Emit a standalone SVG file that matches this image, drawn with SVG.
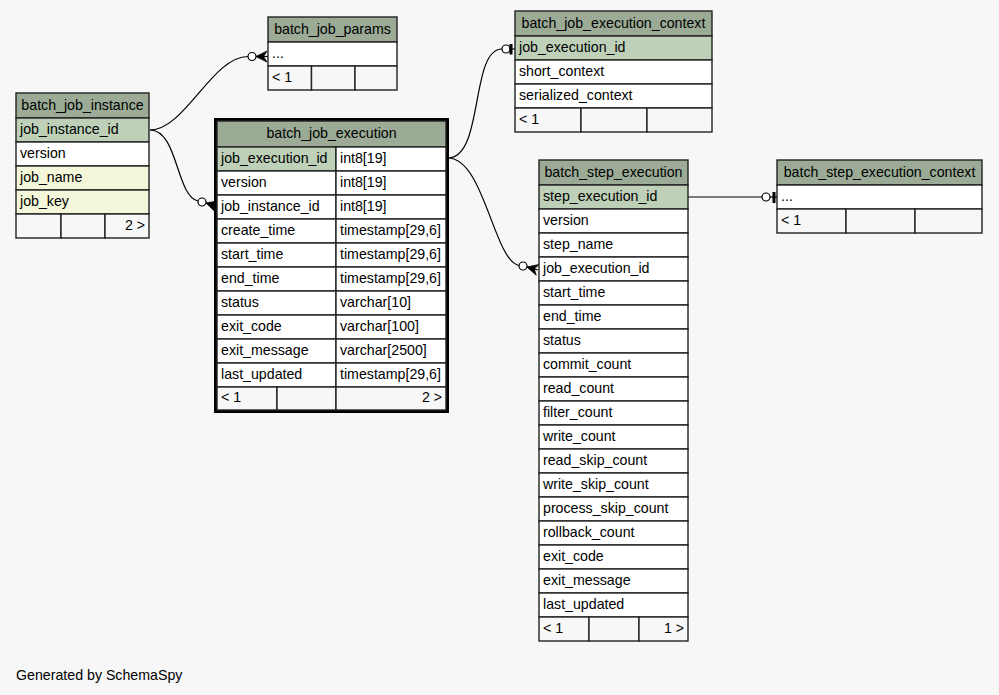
<svg xmlns="http://www.w3.org/2000/svg" width="999" height="695" viewBox="0 0 999 695">
<style>
rect.hd{fill:#9bab96}
rect.pk{fill:#bed1b8}
rect.ix{fill:#f4f7da}
rect.rw{fill:#ffffff}
rect.ft{fill:#f7f7f7}
.tbl rect{stroke:#222;stroke-width:1.4}
text{font-family:"Liberation Sans",Arial,Helvetica,sans-serif;font-size:14.2px;fill:#000}
text.c{text-anchor:middle}
text.r{text-anchor:end}
.edge path.ln{fill:none;stroke:#000;stroke-width:1.2}
.edge circle{fill:#ffffff;stroke:#000;stroke-width:1.2}
.edge .crow{fill:#000;stroke:#000;stroke-width:0.8;stroke-linejoin:miter}
.edge .bar{fill:#000}
</style>
<rect x="0" y="0" width="999" height="695" fill="#f7f7f7"/>

<g id="connectors" class="edge">
  <path class="ln" d="M150,130 C185,130 212,56.5 248,56.5"/>
  <circle cx="252" cy="56.5" r="4"/>
  <path class="ln" d="M256,56.5 H268"/>
  <polygon class="crow" points="256,56.5 267,51 263.5,56.5 267,62"/>
  <path class="ln" d="M150,130 C178,130 176,196 198,201"/>
  <circle cx="202" cy="202" r="4"/>
  <g transform="translate(206,203) rotate(17)">
    <path class="ln" d="M0,0 H11"/>
    <polygon class="crow" points="0,0 11,-5.5 7.5,0 11,5.5"/>
  </g>
  <path class="ln" d="M448,158 C484,158 470,49 502,49"/>
  <circle cx="506" cy="49" r="4"/>
  <path class="ln" d="M510,49 H515"/>
  <rect class="bar" x="509.5" y="44" width="3" height="10.5"/>
  <path class="ln" d="M448,158 C484,158 494,261 519,265.5"/>
  <circle cx="523" cy="266" r="4"/>
  <g transform="translate(527,267) rotate(15)">
    <path class="ln" d="M0,0 H11"/>
    <polygon class="crow" points="0,0 11,-5.5 7.5,0 11,5.5"/>
  </g>
  <path class="ln" d="M688,197 H762"/>
  <circle cx="766" cy="197" r="4"/>
  <path class="ln" d="M770,197 H777"/>
  <rect class="bar" x="772.5" y="192" width="3" height="11"/>
</g>

<g id="batch_job_instance" class="tbl">
  <rect class="hd" x="16" y="93" width="133" height="25"/>
  <text class="c" x="82.5" y="109.5">batch_job_instance</text>
  <rect class="pk" x="16" y="118" width="133" height="24"/>
  <text x="20" y="134">job_instance_id</text>
  <rect class="rw" x="16" y="142" width="133" height="24"/>
  <text x="20" y="158">version</text>
  <rect class="ix" x="16" y="166" width="133" height="24"/>
  <text x="20" y="182">job_name</text>
  <rect class="ix" x="16" y="190" width="133" height="24"/>
  <text x="20" y="206">job_key</text>
  <rect class="ft" x="16" y="214" width="45" height="24"/>
  <rect class="ft" x="61" y="214" width="44" height="24"/>
  <rect class="ft" x="105" y="214" width="44" height="24"/>
  <text class="r" x="145" y="230">2 &gt;</text>
</g>

<g id="batch_job_params" class="tbl">
  <rect class="hd" x="268" y="17" width="129" height="25"/>
  <text class="c" x="332.5" y="33.5">batch_job_params</text>
  <rect class="rw" x="268" y="42" width="129" height="24"/>
  <text x="272" y="58">...</text>
  <rect class="ft" x="268" y="66" width="43.5" height="24"/>
  <rect class="ft" x="311.5" y="66" width="43.5" height="24"/>
  <rect class="ft" x="355" y="66" width="42" height="24"/>
  <text x="272" y="82">&lt; 1</text>
</g>

<g id="batch_job_execution" class="tbl">
  <rect x="215.5" y="119.5" width="232" height="292" fill="none" style="stroke:#000;stroke-width:3"/>
  <rect class="hd" x="217" y="121" width="229" height="26"/>
  <text class="c" x="331.5" y="138">batch_job_execution</text>
  <rect class="pk" x="217" y="147" width="119" height="24"/><rect class="rw" x="336" y="147" width="110" height="24"/>
  <text x="221" y="163">job_execution_id</text><text x="340" y="163">int8[19]</text>
  <rect class="rw" x="217" y="171" width="119" height="24"/><rect class="rw" x="336" y="171" width="110" height="24"/>
  <text x="221" y="187">version</text><text x="340" y="187">int8[19]</text>
  <rect class="rw" x="217" y="195" width="119" height="24"/><rect class="rw" x="336" y="195" width="110" height="24"/>
  <text x="221" y="211">job_instance_id</text><text x="340" y="211">int8[19]</text>
  <rect class="rw" x="217" y="219" width="119" height="24"/><rect class="rw" x="336" y="219" width="110" height="24"/>
  <text x="221" y="235">create_time</text><text x="340" y="235">timestamp[29,6]</text>
  <rect class="rw" x="217" y="243" width="119" height="24"/><rect class="rw" x="336" y="243" width="110" height="24"/>
  <text x="221" y="259">start_time</text><text x="340" y="259">timestamp[29,6]</text>
  <rect class="rw" x="217" y="267" width="119" height="24"/><rect class="rw" x="336" y="267" width="110" height="24"/>
  <text x="221" y="283">end_time</text><text x="340" y="283">timestamp[29,6]</text>
  <rect class="rw" x="217" y="291" width="119" height="24"/><rect class="rw" x="336" y="291" width="110" height="24"/>
  <text x="221" y="307">status</text><text x="340" y="307">varchar[10]</text>
  <rect class="rw" x="217" y="315" width="119" height="24"/><rect class="rw" x="336" y="315" width="110" height="24"/>
  <text x="221" y="331">exit_code</text><text x="340" y="331">varchar[100]</text>
  <rect class="rw" x="217" y="339" width="119" height="24"/><rect class="rw" x="336" y="339" width="110" height="24"/>
  <text x="221" y="355">exit_message</text><text x="340" y="355">varchar[2500]</text>
  <rect class="rw" x="217" y="363" width="119" height="24"/><rect class="rw" x="336" y="363" width="110" height="24"/>
  <text x="221" y="379">last_updated</text><text x="340" y="379">timestamp[29,6]</text>
  <rect class="ft" x="217" y="387" width="60" height="23"/>
  <rect class="ft" x="277" y="387" width="59" height="23"/>
  <rect class="ft" x="336" y="387" width="110" height="23"/>
  <text x="221" y="402">&lt; 1</text>
  <text class="r" x="442" y="402">2 &gt;</text>
</g>

<g id="batch_job_execution_context" class="tbl">
  <rect class="hd" x="515" y="11" width="197" height="25"/>
  <text class="c" x="613.5" y="27.5">batch_job_execution_context</text>
  <rect class="pk" x="515" y="36" width="197" height="24"/>
  <text x="519" y="52">job_execution_id</text>
  <rect class="rw" x="515" y="60" width="197" height="24"/>
  <text x="519" y="76">short_context</text>
  <rect class="rw" x="515" y="84" width="197" height="24"/>
  <text x="519" y="100">serialized_context</text>
  <rect class="ft" x="515" y="108" width="66" height="24"/>
  <rect class="ft" x="581" y="108" width="66" height="24"/>
  <rect class="ft" x="647" y="108" width="65" height="24"/>
  <text x="519" y="124">&lt; 1</text>
</g>

<g id="batch_step_execution" class="tbl">
  <rect class="hd" x="539" y="160" width="149" height="25"/>
  <text class="c" x="613.5" y="176.5">batch_step_execution</text>
  <rect class="pk" x="539" y="185" width="149" height="24"/><text x="543" y="201">step_execution_id</text>
  <rect class="rw" x="539" y="209" width="149" height="24"/><text x="543" y="225">version</text>
  <rect class="rw" x="539" y="233" width="149" height="24"/><text x="543" y="249">step_name</text>
  <rect class="rw" x="539" y="257" width="149" height="24"/><text x="543" y="273">job_execution_id</text>
  <rect class="rw" x="539" y="281" width="149" height="24"/><text x="543" y="297">start_time</text>
  <rect class="rw" x="539" y="305" width="149" height="24"/><text x="543" y="321">end_time</text>
  <rect class="rw" x="539" y="329" width="149" height="24"/><text x="543" y="345">status</text>
  <rect class="rw" x="539" y="353" width="149" height="24"/><text x="543" y="369">commit_count</text>
  <rect class="rw" x="539" y="377" width="149" height="24"/><text x="543" y="393">read_count</text>
  <rect class="rw" x="539" y="401" width="149" height="24"/><text x="543" y="417">filter_count</text>
  <rect class="rw" x="539" y="425" width="149" height="24"/><text x="543" y="441">write_count</text>
  <rect class="rw" x="539" y="449" width="149" height="24"/><text x="543" y="465">read_skip_count</text>
  <rect class="rw" x="539" y="473" width="149" height="24"/><text x="543" y="489">write_skip_count</text>
  <rect class="rw" x="539" y="497" width="149" height="24"/><text x="543" y="513">process_skip_count</text>
  <rect class="rw" x="539" y="521" width="149" height="24"/><text x="543" y="537">rollback_count</text>
  <rect class="rw" x="539" y="545" width="149" height="24"/><text x="543" y="561">exit_code</text>
  <rect class="rw" x="539" y="569" width="149" height="24"/><text x="543" y="585">exit_message</text>
  <rect class="rw" x="539" y="593" width="149" height="24"/><text x="543" y="609">last_updated</text>
  <rect class="ft" x="539" y="617" width="50" height="24"/>
  <rect class="ft" x="589" y="617" width="50" height="24"/>
  <rect class="ft" x="639" y="617" width="49" height="24"/>
  <text x="543" y="633">&lt; 1</text>
  <text class="r" x="684" y="633">1 &gt;</text>
</g>

<g id="batch_step_execution_context" class="tbl">
  <rect class="hd" x="777" y="160" width="205" height="25"/>
  <text class="c" x="879.5" y="176.5">batch_step_execution_context</text>
  <rect class="rw" x="777" y="185" width="205" height="24"/>
  <text x="781" y="201">...</text>
  <rect class="ft" x="777" y="209" width="69" height="24"/>
  <rect class="ft" x="846" y="209" width="69" height="24"/>
  <rect class="ft" x="915" y="209" width="67" height="24"/>
  <text x="781" y="225">&lt; 1</text>
</g>

<text id="footer" x="16" y="680">Generated by SchemaSpy</text>
</svg>
